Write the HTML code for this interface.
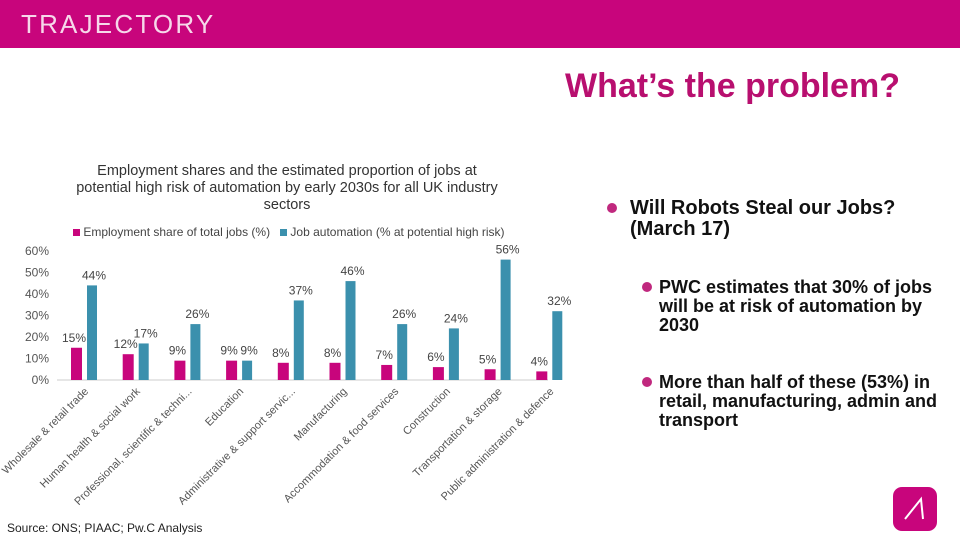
<!DOCTYPE html>
<html><head><meta charset="utf-8"><style>
body{margin:0;width:960px;height:540px;overflow:hidden;background:#fff;font-family:"Liberation Sans",sans-serif;position:relative}
.abs{position:absolute}
.bul{position:absolute;width:10px;height:10px;border-radius:50%;background:#c0287e}
.bt{position:absolute;font-weight:bold;color:#111;white-space:nowrap}
</style></head><body>
<div class="abs" style="left:0;top:0;width:960px;height:48px;background:#c8057c"></div>
<div class="abs" style="left:21px;top:9px;color:#f6d8ea;font-size:26px;letter-spacing:2.2px;font-weight:300">TRAJECTORY</div>
<div class="abs" style="left:565px;top:67px;color:#b80f6f;font-size:34px;font-weight:bold;white-space:nowrap">What’s the problem?</div>
<div class="abs" style="left:37px;top:163px;width:500px;text-align:center;font-size:14.5px;line-height:17px;color:#333;white-space:nowrap">Employment shares and the estimated proportion of jobs at<br>potential high risk of automation by early 2030s for all UK industry<br>sectors</div>
<div class="abs" style="left:73px;top:225px;font-size:12px;color:#444;white-space:nowrap">
<span style="display:inline-block;width:7px;height:7px;background:#c8057c"></span> Employment share of total jobs (%) &nbsp;
<span style="display:inline-block;width:7px;height:7px;background:#3b90ad"></span> Job automation (% at potential high risk)</div>
<svg class="abs" style="left:0;top:0" width="600" height="540" id="chart"></svg>
<div class="abs" style="left:7px;top:521px;font-size:12px;color:#222">Source: ONS; PIAAC; Pw.C Analysis</div>
<div class="bul" style="left:607px;top:203px"></div>
<div class="bt" style="left:630px;top:198px;font-size:20px;line-height:21px">Will Robots Steal our Jobs?<br>(March 17)</div>
<div class="bul" style="left:642px;top:282px"></div>
<div class="bt" style="left:659px;top:278px;font-size:18px;line-height:19px">PWC estimates that 30% of jobs<br>will be at risk of automation by<br>2030</div>
<div class="bul" style="left:642px;top:377px"></div>
<div class="bt" style="left:659px;top:373px;font-size:18px;line-height:19px">More than half of these (53%) in<br>retail, manufacturing, admin and<br>transport</div>
<div class="abs" style="left:893px;top:487px;width:44px;height:44px;border-radius:9px;background:#c8057c">
<svg width="44" height="44"><path d="M12 32 L28 12 L30 32" stroke="#fff" stroke-width="2" fill="none"/></svg></div>
<script>
const categories=["Wholesale & retail trade","Human health & social work","Professional, scientific & techni...","Education","Administrative & support servic...","Manufacturing","Accommodation & food services","Construction","Transportation & storage","Public administration & defence"];
const employment=[15,12,9,9,8,8,7,6,5,4];
const automation=[44,17,26,9,37,46,26,24,56,32];
const yTicks=[0,10,20,30,40,50,60];
const svg=document.getElementById('chart');
const NS='http://www.w3.org/2000/svg';
const y0=380,pp=2.15,x0=71,step=51.7;
const Y=v=>y0-v*pp;
const X=i=>x0+i*step;
function mk(t,a){const e=document.createElementNS(NS,t);for(const k in a)e.setAttribute(k,a[k]);svg.appendChild(e);return e;}
yTicks.forEach(v=>{const t=mk('text',{x:49,y:Y(v)+4,'text-anchor':'end','font-size':12,fill:'#555'});t.textContent=v+'%';

});
const ax=mk('line',{x1:57,x2:548,y1:y0,y2:y0,stroke:'#ccc'});


categories.forEach((c,i)=>{
 const x=X(i);
 const b1=mk('rect',{x:x,y:Y(employment[i]),width:11,height:employment[i]*pp,fill:'#c8057c'});
 
 
 const b2=mk('rect',{x:x+16,y:Y(automation[i]),width:10,height:automation[i]*pp,fill:'#3b90ad'});
 
 
 const l1=mk('text',{x:x+3,y:Y(employment[i])-6,'text-anchor':'middle','font-size':12,fill:'#444'});l1.textContent=employment[i]+'%';
 
 
 const l2=mk('text',{x:x+23,y:Y(automation[i])-6,'text-anchor':'middle','font-size':12,fill:'#444'});l2.textContent=automation[i]+'%';
 
 
 const cl=mk('text',{x:x+18,y:y0+12,'text-anchor':'end','font-size':11,fill:'#555',transform:`rotate(-45 ${x+18} ${y0+12})`});cl.textContent=c;
 
 
});
</script>
</body></html>
